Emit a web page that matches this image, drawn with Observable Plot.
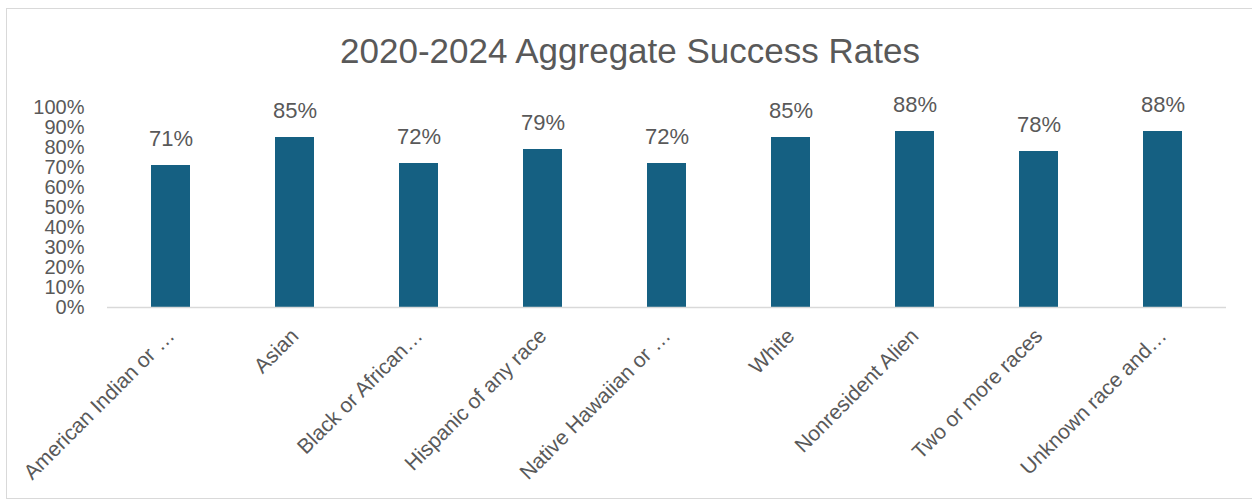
<!DOCTYPE html>
<html>
<head>
<meta charset="utf-8">
<script src="https://cdn.jsdelivr.net/npm/d3@7"></script>
<script src="https://cdn.jsdelivr.net/npm/@observablehq/plot@0.6"></script>
<style>
  html, body { margin: 0; padding: 0; background: #fff; }
  #wrap { position: relative; width: 1252px; height: 502px; overflow: hidden; font-family: "Liberation Sans", Arial, sans-serif; }
  #frame { position: absolute; left: 6px; top: 8px; width: 1260px; height: 491px; border: 1px solid #d9d9d9; box-sizing: border-box; }
  #title { position: absolute; left: 0; width: 1260px; top: 30px; text-align: center; font-size: 35px; color: #595959; line-height: 42px; }
  #chart { position: absolute; left: 0; top: 80px; }
</style>
</head>
<body>
<div id="wrap">
  <div id="frame"></div>
  <div id="title">2020-2024 Aggregate Success Rates</div>
  <div id="chart"></div>
</div>
<script>
const categories = [
  "American Indian or …",
  "Asian",
  "Black or African…",
  "Hispanic of any race",
  "Native Hawaiian or …",
  "White",
  "Nonresident Alien",
  "Two or more races",
  "Unknown race and…"
];
const rates = [0.71, 0.85, 0.72, 0.79, 0.72, 0.85, 0.88, 0.78, 0.88];
const yTicks = [0, 0.1, 0.2, 0.3, 0.4, 0.5, 0.6, 0.7, 0.8, 0.9, 1.0];

const data = categories.map((c, i) => ({category: c, rate: rates[i]}));
const fmt = d3.format(".0%");

const chart = Plot.plot({
  width: 1252,
  height: 420,
  marginTop: 27,
  marginBottom: 193,
  marginLeft: 107,
  marginRight: 26,
  style: {fontFamily: "'Liberation Sans', Arial, sans-serif", color: "#595959", background: "transparent"},
  x: {domain: categories, paddingInner: 0.685, paddingOuter: 0.3425, label: null},
  y: {domain: [0, 1], label: null},
  marks: [
    Plot.axisY({ticks: yTicks, tickFormat: fmt, tickSize: 0, tickPadding: 23, fontSize: 20, fill: "#595959", label: null}),
    Plot.axisX({tickSize: 0, tickRotate: -45, tickPadding: 25, fontSize: 21, fill: "#595959", label: null}),
    Plot.barY(data, {x: "category", y: "rate", fill: "#156082"}),
    Plot.ruleY([0], {stroke: "#d9d9d9", strokeWidth: 1.5}),
    Plot.text(data, {x: "category", y: "rate", text: d => fmt(d.rate), lineAnchor: "bottom", dy: -20, fontSize: 22, fill: "#595959"})
  ]
});
document.getElementById("chart").appendChild(chart);
</script>
</body>
</html>
